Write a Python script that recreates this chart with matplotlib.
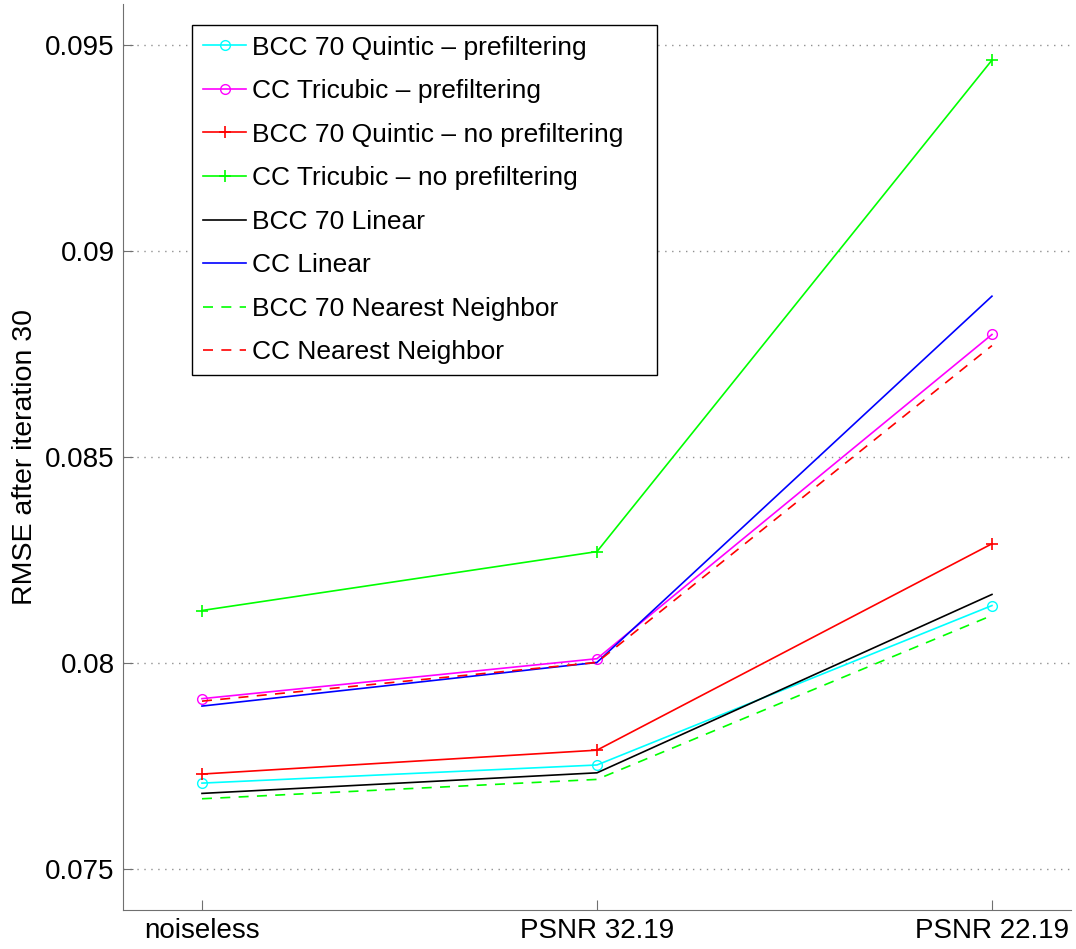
import matplotlib
matplotlib.use('Agg')
import matplotlib.pyplot as plt
from matplotlib.patches import Rectangle

plt.rcParams['font.family'] = ['Liberation Sans', 'DejaVu Sans']

# noise levels on the x axis
noise_labels = ['noiseless', 'PSNR 32.19', 'PSNR 22.19']
xpos = [1, 2, 3]

# RMSE after iteration 30
bcc_quintic_pre = [0.07708, 0.07752, 0.08139]
cc_tricubic_pre = [0.07913, 0.08010, 0.08797]
bcc_quintic_nopre = [0.07730, 0.07788, 0.08289]
cc_tricubic_nopre = [0.08127, 0.08270, 0.09463]
bcc_linear = [0.07683, 0.07733, 0.08166]
cc_linear = [0.07895, 0.08001, 0.08890]
bcc_nearest = [0.07670, 0.07717, 0.08115]
cc_nearest = [0.07907, 0.08001, 0.08770]

fig = plt.figure(figsize=(10.76, 9.49), dpi=100)
ax = fig.add_axes([0.1143, 0.0411, 0.881, 0.955])

ax.plot(xpos, bcc_quintic_pre, color='#00ffff', marker='o', mfc='none', ms=7, lw=1.2,
        label='BCC 70 Quintic \u2013 prefiltering')
ax.plot(xpos, cc_tricubic_pre, color='#ff00ff', marker='o', mfc='none', ms=7, lw=1.2,
        label='CC Tricubic \u2013 prefiltering')
ax.plot(xpos, bcc_quintic_nopre, color='#ff0000', marker='+', ms=8, mew=1.2, lw=1.2,
        label='BCC 70 Quintic \u2013 no prefiltering')
ax.plot(xpos, cc_tricubic_nopre, color='#00ff00', marker='+', ms=8, mew=1.2, lw=1.2,
        label='CC Tricubic \u2013 no prefiltering')
ax.plot(xpos, bcc_linear, color='black', lw=1.2, label='BCC 70 Linear')
ax.plot(xpos, cc_linear, color='#0000ff', lw=1.2, label='CC Linear')
ax.plot(xpos, bcc_nearest, color='#00ff00', ls=(0, (6, 5)), lw=1.2,
        label='BCC 70 Nearest Neighbor')
ax.plot(xpos, cc_nearest, color='#ff0000', ls=(0, (6, 5)), lw=1.2,
        label='CC Nearest Neighbor')

ax.set_xlim(0.8, 3.2)
ax.set_ylim(0.074, 0.096)
ax.set_xticks(xpos)
ax.set_xticklabels(noise_labels)
ax.set_yticks([0.075, 0.08, 0.085, 0.09, 0.095])
ax.set_yticklabels(['0.075', '0.08', '0.085', '0.09', '0.095'])
ax.set_ylabel('RMSE after iteration 30', fontsize=20.5, labelpad=5)

# matlab-ish look: gray axes, inward ticks, dotted y grid, no box
for side in ['top', 'right']:
    ax.spines[side].set_visible(False)
for side in ['left', 'bottom']:
    ax.spines[side].set_color('#707070')
ax.tick_params(direction='in', length=7, color='#707070', labelsize=20, pad=6)
ax.yaxis.grid(True, linestyle=(0, (1, 4)), color='#909090', lw=1.0)

leg = ax.legend(loc='upper left', bbox_to_anchor=(0.0728, 0.977), borderaxespad=0,
                fontsize=19, handlelength=1.63, handletextpad=0.23, labelspacing=0.74,
                borderpad=0.42, frameon=False)
leg.set_zorder(6)

# matlab legend box has extra room on the right, so draw the frame by hand
fig.canvas.draw()
bb = leg.get_window_extent(fig.canvas.get_renderer())
fw, fh = fig.bbox.width, fig.bbox.height
extra = 22
ax.add_patch(Rectangle((bb.x0 / fw, bb.y0 / fh), (bb.width + extra) / fw, bb.height / fh,
                       transform=fig.transFigure, facecolor='white', edgecolor='black',
                       lw=1.0, zorder=5.5, clip_on=False))

fig.savefig('out.png', dpi=100)
